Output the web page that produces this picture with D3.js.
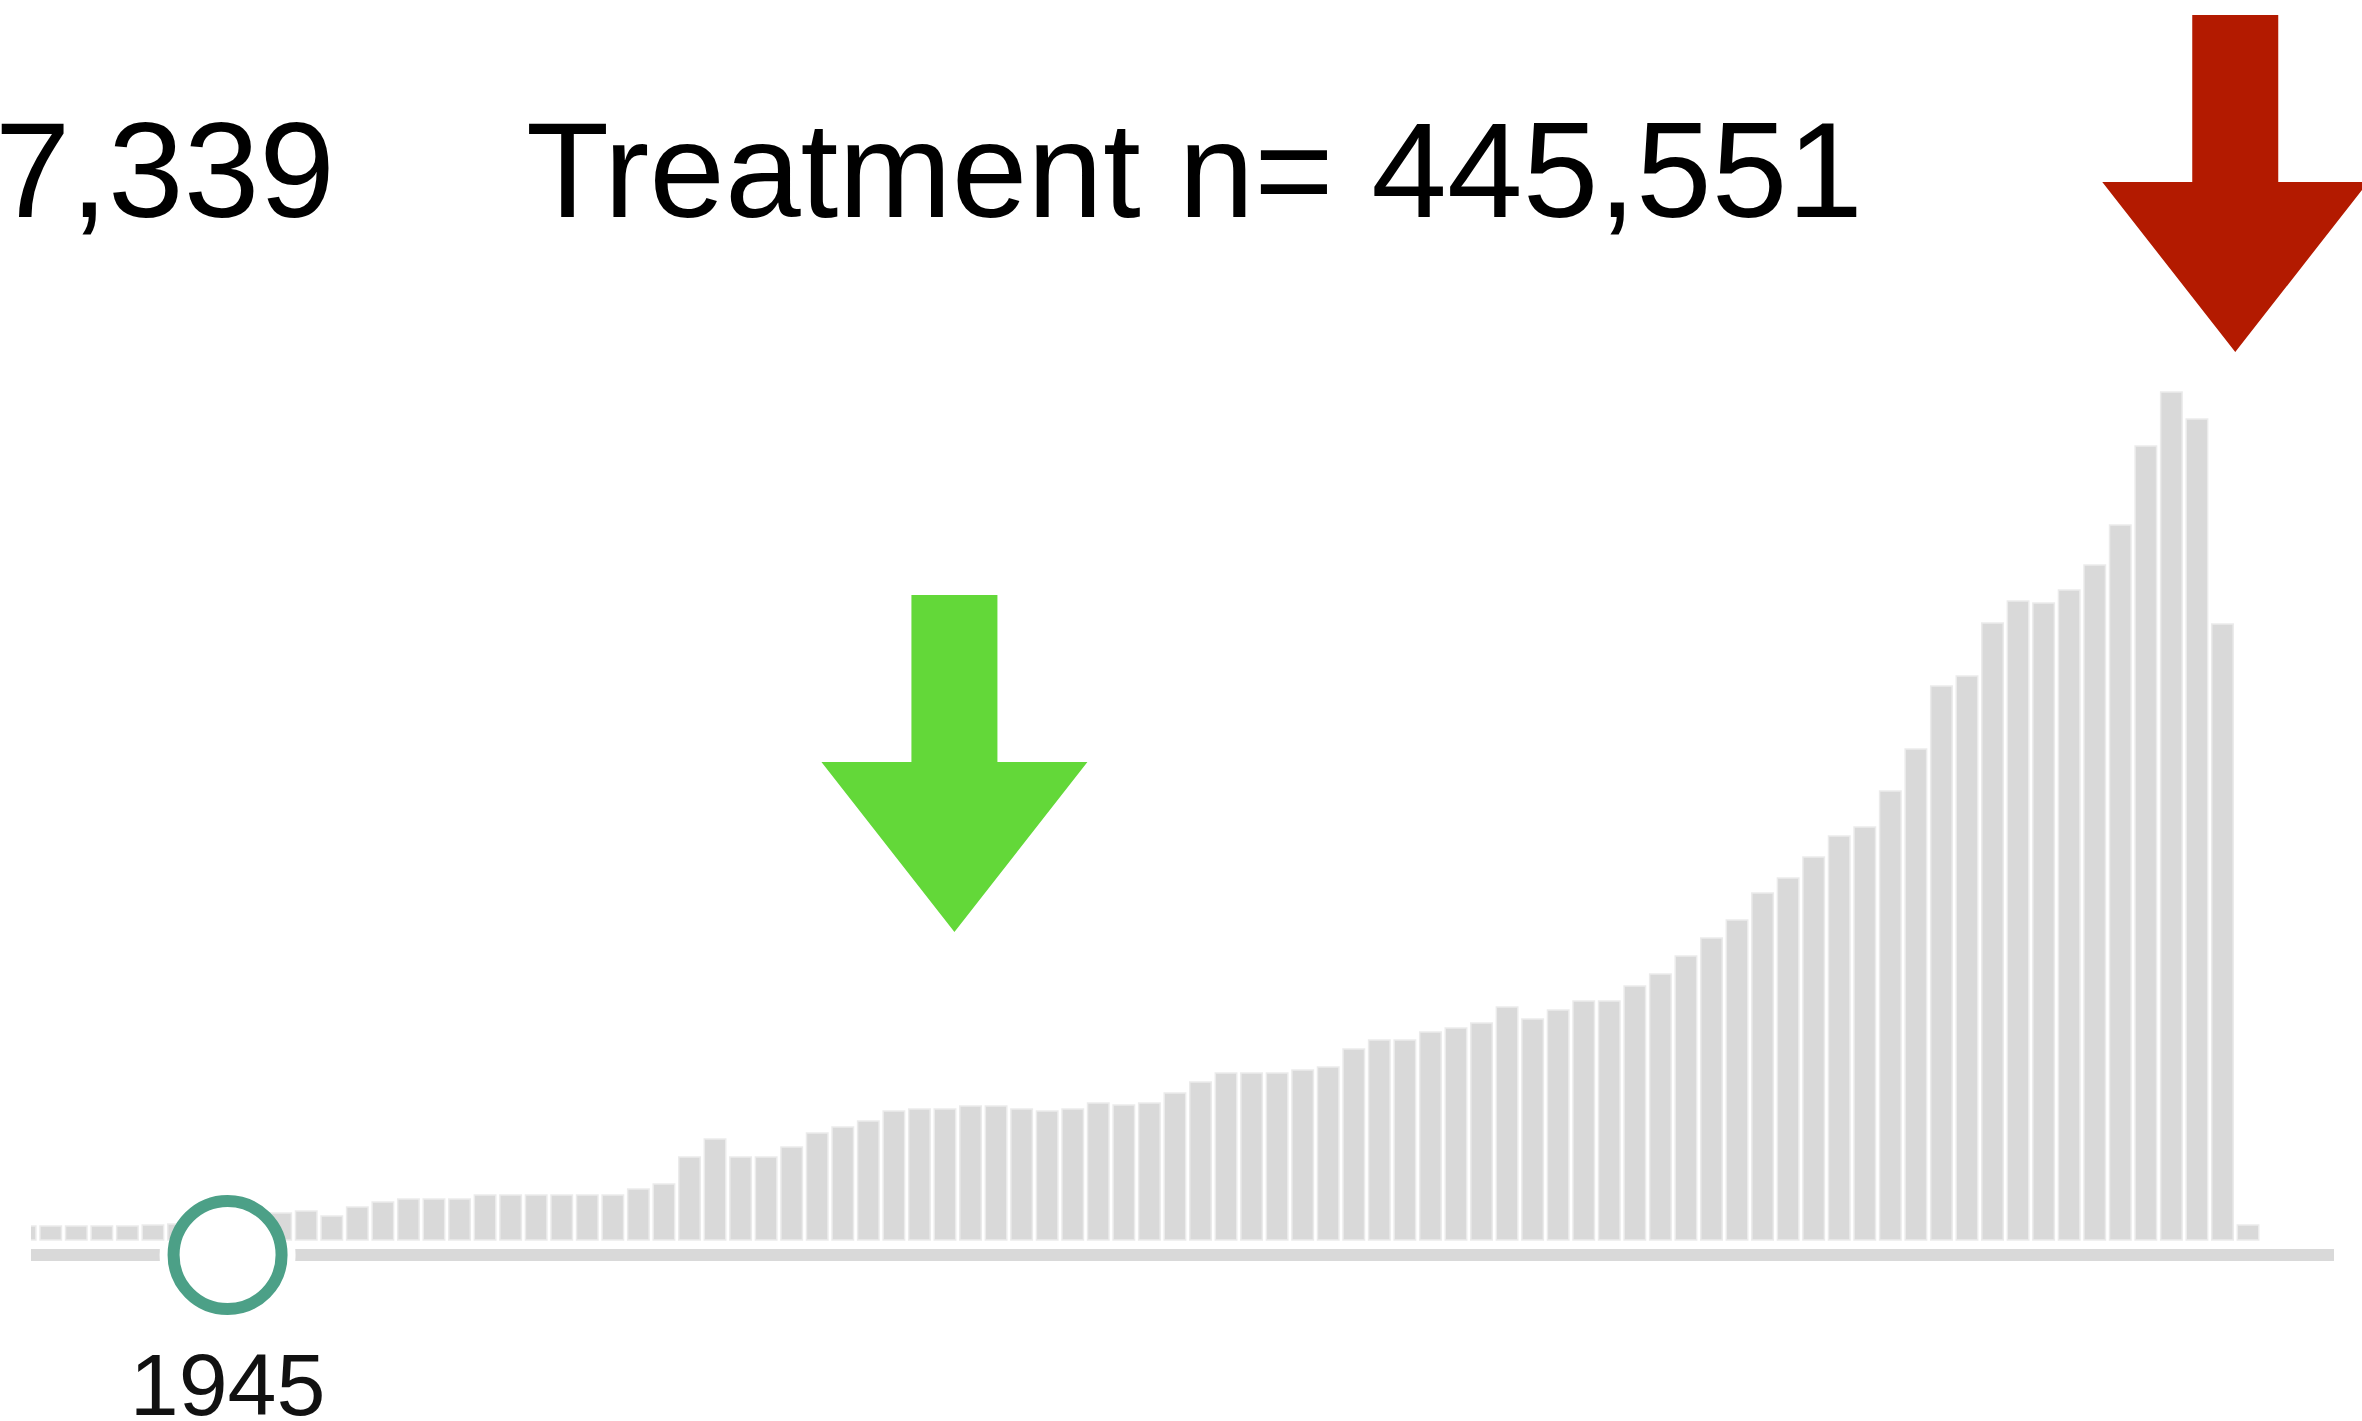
<!DOCTYPE html>
<html>
<head>
<meta charset="utf-8">
<script src="https://cdn.jsdelivr.net/npm/d3@7"></script>
<style>
  html, body { margin: 0; padding: 0; background: #fff; }
  svg { display: block; }
</style>
</head>
<body>
<div id="chart"></div>
<script>
const width = 2362
const height = 1421

// bar heights per year (relative units), first year is cut at the left edge
const firstYear = 1937
const counts = [
  14, 14, 14, 14, 14, 15, 16, 18, 21, 24,
  27, 29, 24, 33, 38, 41, 41, 41, 45, 45,
  45, 45, 45, 45, 51, 56, 83, 101, 83, 83,
  93, 107, 113, 119, 129, 131, 131, 134, 134, 131,
  129, 131, 137, 135, 137, 147, 158, 167, 167, 167,
  170, 173, 191, 200, 200, 208, 212, 217, 233, 221,
  230, 239, 239, 254, 266, 284, 302, 320, 347, 362,
  383, 404, 413, 449, 491, 554, 564, 617, 639, 637,
  650, 675, 715, 794, 848, 821, 616, 15
]
const years = counts.map((d, i) => firstYear + i)

const selectedYear = 1945
const leftLabel = '7,339'
const rightLabel = 'Treatment n= 445,551'

// arrows: year position of the tip and height (same units as counts)
const arrowYears = [1973.37, 2023.5]
const arrowTips = [308, 888]
const arrowColors = ['#63d839', '#b31a00']

const svg = d3.select('#chart').append('svg')
  .attr('width', width)
  .attr('height', height)
  .attr('viewBox', `0 0 ${width} ${height}`)

const x = d3.scaleBand()
  .domain(years)
  .range([12.4, 2260.8])
  .paddingInner(0.16)
  .paddingOuter(0.08)

const y = d3.scaleLinear()
  .domain([0, 848])
  .range([1240, 392])

// fractional year -> pixel (centre of band)
const xc = yr => {
  const i = yr - firstYear
  return x(firstYear) + i * x.step() + x.bandwidth() / 2
}

const trackX0 = 31
const trackX1 = 2334
const trackY = 1249

svg.append('defs').append('clipPath').attr('id', 'plot-clip')
  .append('rect')
  .attr('x', trackX0).attr('y', 0)
  .attr('width', trackX1 - trackX0).attr('height', height)

// slider track
svg.append('rect')
  .attr('x', trackX0)
  .attr('y', trackY)
  .attr('width', trackX1 - trackX0)
  .attr('height', 12)
  .style('fill', '#d9d9d9')

const cx = x(selectedYear) + x.bandwidth() / 2 - 2
const cy = trackY + 6

svg.append('circle')
  .attr('cx', cx).attr('cy', cy).attr('r', 68)
  .style('fill', '#fff')

// bars
svg.append('g')
  .attr('clip-path', 'url(#plot-clip)')
  .selectAll('rect')
  .data(counts)
  .enter()
  .append('rect')
  .attr('x', (d, i) => x(years[i]))
  .attr('y', d => y(d))
  .attr('width', x.bandwidth())
  .attr('height', d => y(0) - y(d))
  .style('fill', '#d9d9d9')
  .style('stroke', '#ebebeb')
  .style('stroke-width', 1.5)

// slider handle
svg.append('circle')
  .attr('cx', cx).attr('cy', cy).attr('r', 54)
  .style('fill', '#fff')
  .style('stroke', '#4ca087')
  .style('stroke-width', 12)

svg.append('text')
  .attr('x', cx)
  .attr('y', 1415)
  .attr('text-anchor', 'middle')
  .style('font-family', '"Liberation Sans", Arial, sans-serif')
  .style('font-size', '88px')
  .style('fill', '#111')
  .text(selectedYear)

// header texts
svg.append('text')
  .attr('x', 335)
  .attr('y', 217)
  .attr('text-anchor', 'end')
  .style('font-family', '"Liberation Sans", Arial, sans-serif')
  .style('font-size', '136px')
  .style('fill', '#000')
  .text(leftLabel)

svg.append('text')
  .attr('x', 526)
  .attr('y', 217)
  .style('font-family', '"Liberation Sans", Arial, sans-serif')
  .style('font-size', '136px')
  .style('fill', '#000')
  .text(rightLabel)

// arrows (shaft 86 wide x 167 long, head 266 wide x 170 tall)
const arrowPath = (tx, ty) => {
  const hw = 133, sw = 43, hh = 170, sl = 167
  return d3.line()([
    [tx - sw, ty - hh - sl], [tx + sw, ty - hh - sl], [tx + sw, ty - hh],
    [tx + hw, ty - hh], [tx, ty], [tx - hw, ty - hh], [tx - sw, ty - hh]
  ]) + 'Z'
}

svg.append('g')
  .selectAll('path')
  .data(arrowYears)
  .enter()
  .append('path')
  .attr('d', (d, i) => arrowPath(xc(d), y(arrowTips[i])))
  .style('fill', (d, i) => arrowColors[i])
</script>
</body>
</html>
